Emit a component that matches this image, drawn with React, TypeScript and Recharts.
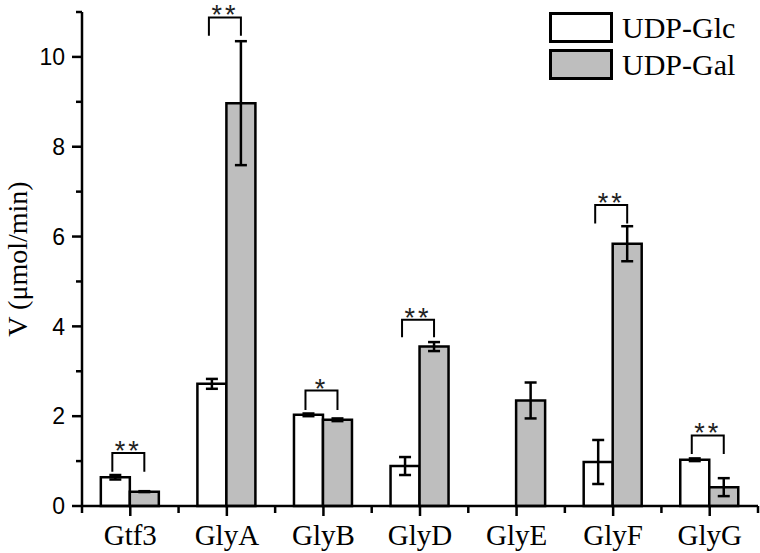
import { BarChart, Bar, XAxis, YAxis, ErrorBar, Rectangle } from "recharts";

// enzyme names on the x axis
const categories = ["Gtf3", "GlyA", "GlyB", "GlyD", "GlyE", "GlyF", "GlyG"];

// UDP-Glc (white bars)
const glcValues = [0.64, 2.72, 2.03, 0.89, null, 0.98, 1.03];
const glcErrors = [0.05, 0.11, 0.03, 0.2, null, 0.49, 0.03];

// UDP-Gal (grey bars)
const galValues = [0.32, 8.97, 1.92, 3.55, 2.35, 5.84, 0.42];
const galErrors = [0.01, 1.38, 0.03, 0.1, 0.4, 0.39, 0.2];

// significance brackets
const sigLabels = ["**", "**", "*", "**", "", "**", "**"];
const sigTops = [1.18, 10.88, 2.57, 4.15, null, 6.7, 1.57];
const sigLegs = [0.76, 10.47, 2.14, 3.76, null, 6.29, 1.16];

const yTicks = [0, 1, 2, 3, 4, 5, 6, 7, 8, 9, 10, 11];
const seriesNames = ["UDP-Glc", "UDP-Gal"];
const seriesFills = ["#ffffff", "#bebebe"];

const CHART_W = 760;
const CHART_H = 553;
const MARGIN = { top: 12, right: 2, bottom: 0, left: 0 };
const Y_AXIS_W = 82;
const X_AXIS_H = 47;
const BAND = (CHART_W - MARGIN.left - MARGIN.right - Y_AXIS_W) / categories.length;
const SERIF = "'Liberation Serif', 'Times New Roman', serif";
const SANS = "'Liberation Sans', Arial, sans-serif";

const data = categories.map((name, i) => ({
  name,
  glc: glcValues[i],
  glcErr: glcErrors[i],
  gal: galValues[i],
  galErr: galErrors[i],
  sigLabel: sigLabels[i],
  sigTop: sigTops[i],
  sigLeg: sigLegs[i],
}));

const XTick = ({ x, y, payload, index }: any) => (
  <g>
    <line x1={x} x2={x} y1={y} y2={y + 10} stroke="#000" strokeWidth={2.5} />
    <line x1={x - BAND / 2} x2={x - BAND / 2} y1={y} y2={y + 7} stroke="#000" strokeWidth={2.5} />
    {index === categories.length - 1 && (
      <line x1={x + BAND / 2} x2={x + BAND / 2} y1={y} y2={y + 7} stroke="#000" strokeWidth={2.5} />
    )}
    <text x={x} y={y + 39} textAnchor="middle" fontFamily={SERIF} fontSize={29} fill="#000">
      {payload.value}
    </text>
  </g>
);

const YTick = ({ x, y, payload }: any) => {
  const major = payload.value % 2 === 0 && payload.value <= 10;
  return (
    <g>
      <line x1={x - (major ? 10 : 6)} x2={x} y1={y} y2={y} stroke="#000" strokeWidth={2.5} />
      {major && (
        <text x={x - 17} y={y} dy="0.36em" textAnchor="end" fontFamily={SANS} fontSize={23} fill="#000">
          {payload.value}
        </text>
      )}
    </g>
  );
};

const YTitle = (props: any) => {
  const vb = props.viewBox ?? { x: 0, y: MARGIN.top, width: Y_AXIS_W, height: CHART_H - MARGIN.top - X_AXIS_H };
  const cx = vb.x + 17;
  const cy = vb.y + vb.height / 2;
  return (
    <text
      x={cx}
      y={cy}
      transform={`rotate(-90, ${cx}, ${cy})`}
      textAnchor="middle"
      dominantBaseline="central"
      fontFamily={SERIF}
      fontSize={28}
      fill="#000"
    >
      V (μmol/min)
    </text>
  );
};

// grey bar + the significance bracket spanning both bars of the group
const GalShape = (props: any) => {
  const { x, y, width, height, payload } = props;
  const perUnit = height / payload.gal;
  const base = y + height;
  const toY = (v: number) => base - v * perUnit;
  const hasSig = payload.sigTop != null && payload.sigLabel;
  const left = x - width / 2 - 3;
  const right = x + width / 2;
  return (
    <g>
      <Rectangle x={x} y={y} width={width} height={height} fill={seriesFills[1]} stroke="#000" strokeWidth={2.5} />
      {hasSig && (
        <g>
          <path
            d={`M${left},${toY(payload.sigLeg)} V${toY(payload.sigTop)} H${right} V${toY(payload.sigLeg)}`}
            fill="none"
            stroke="#000"
            strokeWidth={2}
          />
          <text
            x={(left + right) / 2}
            y={toY(payload.sigTop) + 7}
            textAnchor="middle"
            fontFamily={SANS}
            fontSize={27}
            letterSpacing={3}
            fill="#222"
          >
            {payload.sigLabel}
          </text>
        </g>
      )}
    </g>
  );
};

export default function App() {
  return (
    <div style={{ position: "absolute", left: 0, top: 0, width: CHART_W, height: CHART_H, background: "#fff" }}>
      <BarChart
        width={CHART_W}
        height={CHART_H}
        data={data}
        margin={MARGIN}
        barCategoryGap="19.5%"
        barGap={0}
      >
        <XAxis
          dataKey="name"
          height={X_AXIS_H}
          axisLine={{ stroke: "#000", strokeWidth: 2.5 }}
          tickLine={false}
          tickSize={0}
          tickMargin={0}
          interval={0}
          tick={<XTick />}
        />
        <YAxis
          type="number"
          width={Y_AXIS_W}
          domain={[0, 11]}
          ticks={yTicks}
          interval={0}
          axisLine={{ stroke: "#000", strokeWidth: 2.5 }}
          tickLine={false}
          tickSize={0}
          tickMargin={0}
          tick={<YTick />}
          label={{ content: YTitle }}
        />
        <Bar dataKey="glc" fill={seriesFills[0]} stroke="#000" strokeWidth={2.5} isAnimationActive={false}>
          <ErrorBar dataKey="glcErr" width={6} stroke="#000" strokeWidth={2.5} direction="y" />
        </Bar>
        <Bar dataKey="gal" fill={seriesFills[1]} stroke="#000" strokeWidth={2.5} shape={<GalShape />} isAnimationActive={false}>
          <ErrorBar dataKey="galErr" width={6} stroke="#000" strokeWidth={2.5} direction="y" />
        </Bar>
      </BarChart>
      <div style={{ position: "absolute", left: 549, top: 12, fontFamily: SERIF, fontSize: 30, color: "#000" }}>
        {seriesNames.map((name, i) => (
          <div key={name} style={{ display: "flex", alignItems: "center", height: 31, marginBottom: 6 }}>
            <div
              style={{
                width: 64,
                height: 31,
                boxSizing: "border-box",
                border: "3px solid #000",
                background: seriesFills[i],
              }}
            />
            <span style={{ marginLeft: 9, lineHeight: 1 }}>{name}</span>
          </div>
        ))}
      </div>
    </div>
  );
}
